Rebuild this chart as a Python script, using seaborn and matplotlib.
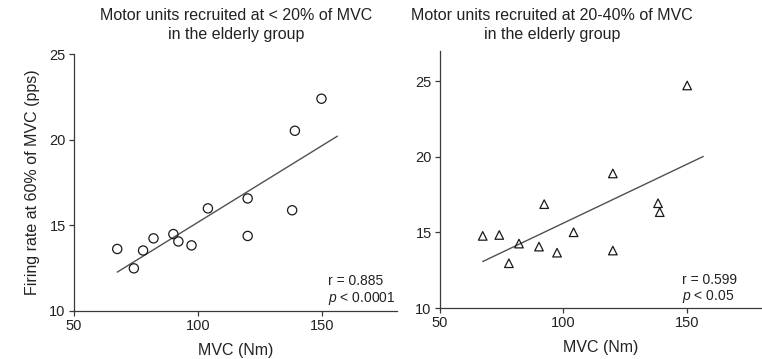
import numpy as np
import pandas as pd
import matplotlib
matplotlib.use("Agg")
import matplotlib.pyplot as plt
import seaborn as sns

# ---- data ----
mvc_low = [67.4, 74.1, 77.8, 82.0, 90.0, 92.0, 97.3, 103.9, 119.9, 119.9, 137.8, 138.9, 149.6]
fr_low = [13.62, 12.49, 13.53, 14.24, 14.49, 14.06, 13.83, 15.99, 16.57, 14.38, 15.88, 20.52, 22.39]

mvc_mid = [67.3, 74.0, 77.9, 82.0, 90.1, 92.2, 97.4, 104.1, 120.0, 120.0, 138.3, 139.0, 150.1]
fr_mid = [14.77, 14.83, 12.96, 14.26, 14.06, 16.87, 13.66, 15.01, 18.90, 13.80, 16.93, 16.34, 24.72]

fit_end_low = 156.0
fit_end_mid = 156.6

titles = ["Motor units recruited at < 20% of MVC\nin the elderly group",
          "Motor units recruited at 20-40% of MVC\nin the elderly group"]
r_labels = ["r = 0.885", "r = 0.599"]
p_labels = ["$\\it{p}$ < 0.0001", "$\\it{p}$ < 0.05"]
x_ticks = [50, 100, 150]
y_ticks = [10, 15, 20, 25]
x_label = "MVC (Nm)"
y_label = "Firing rate at 60% of MVC (pps)"

sns.set_theme(style="ticks")
plt.rcParams['font.family'] = ['Liberation Sans', 'DejaVu Sans']
plt.rcParams['mathtext.fontset'] = 'custom'
plt.rcParams['mathtext.it'] = 'Liberation Sans:italic'
plt.rcParams['mathtext.rm'] = 'Liberation Sans'

fig = plt.figure(figsize=(7.62, 3.59), dpi=100)
ax1 = fig.add_axes([74/762, 1-311/359, (397-74)/762, (311-54)/359])
ax2 = fig.add_axes([440/762, 1-308/359, (761-440)/762, (308-51)/359])

spine_col = "#3a3a3a"
text_col = "#222222"

panels = [
    (ax1, mvc_low, fr_low, "o", fit_end_low, (10, 25)),
    (ax2, mvc_mid, fr_mid, "^", fit_end_mid, (10, 27)),
]

for i, (ax, xs, ys, mk, xend, ylim) in enumerate(panels):
    df = pd.DataFrame({"mvc": xs, "fr": ys})
    sns.scatterplot(data=df, x="mvc", y="fr", ax=ax, marker=mk, s=44 if mk == "o" else 38,
                    facecolors="none", edgecolor="#1a1a1a", linewidth=0.9, zorder=3)
    slope, icpt = np.polyfit(df["mvc"], df["fr"], 1)
    lx = np.array([min(xs), xend])
    sns.lineplot(x=lx, y=slope * lx + icpt, ax=ax, color="#505050", linewidth=1.0, zorder=2)
    ax.set_xlim(50, 180)
    ax.set_ylim(*ylim)
    ax.set_xticks(x_ticks)
    ax.set_yticks(y_ticks)
    ax.tick_params(axis="both", direction="out", length=3.5, width=0.9, color=spine_col,
                   labelsize=10.5, labelcolor=text_col, pad=2.5)
    for s in ["top", "right"]:
        ax.spines[s].set_visible(False)
    for s in ["left", "bottom"]:
        ax.spines[s].set_color(spine_col)
        ax.spines[s].set_linewidth(0.9)
    ax.set_xlabel(x_label, fontsize=11.5, color=text_col, labelpad=7)
    ax.set_ylabel("")
    ax.text(0.785 if i == 0 else 0.755, 0.118 if i == 0 else 0.11, r_labels[i],
            transform=ax.transAxes, fontsize=10, color=text_col, ha="left", va="center")
    ax.text(0.785 if i == 0 else 0.755, 0.048 if i == 0 else 0.045, p_labels[i],
            transform=ax.transAxes, fontsize=10, color=text_col, ha="left", va="center")

ax1.set_ylabel(y_label, fontsize=11.5, color=text_col, labelpad=7)

fig.text(236/762, 1-25/359, titles[0], ha="center", va="center", fontsize=11.5,
         color=text_col, linespacing=1.35)
fig.text(552/762, 1-25/359, titles[1], ha="center", va="center", fontsize=11.5,
         color=text_col, linespacing=1.35)

fig.savefig("out.png", dpi=100)
